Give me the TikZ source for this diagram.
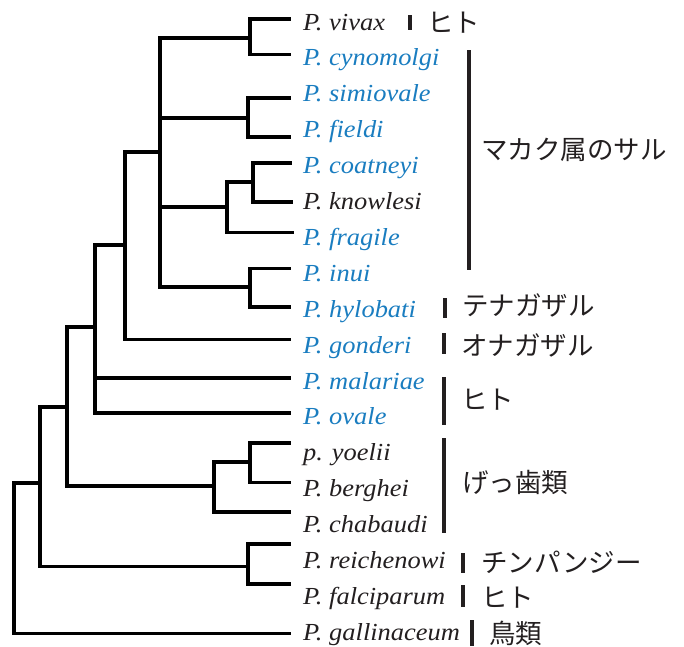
\documentclass[tikz,border=0pt]{standalone}
\usepackage{fontspec}
\setmainfont{Liberation Serif}
\newfontfamily\spit[FakeStretch=1.08]{Liberation Serif}
\newfontfamily\jp{Noto Sans CJK JP}
\definecolor{sp}{HTML}{1A7DC0}
\definecolor{ink}{HTML}{231F20}
\begin{document}
\begin{tikzpicture}[x=1pt,y=-1pt,
  br/.style={line width=3.6pt, line cap=rect, black},
  spn/.style={anchor=base west, inner sep=0pt, font=\spit\fontsize{24.5}{24.5}\selectfont\itshape, text=ink},
  bl/.style={spn, text=sp},
  jpl/.style={anchor=west, inner sep=0pt, font=\jp\fontsize{26.5}{26.5}\selectfont, text=ink},
  bar/.style={line width=4.2pt, ink}]
\useasboundingbox (0,0) rectangle (684,646);
% leaf labels
\node[spn] (vivax) at (303,30) {P. vivax};
\node[bl] (cyno) at (303,65.9) {P. cynomolgi};
\node[bl] (simio) at (303,101.8) {P. simiovale};
\node[bl] (fieldi) at (303,137.7) {P. fieldi};
\node[bl] (coat) at (303,173.6) {P. coatneyi};
\node[spn] (knowl) at (303,209.5) {P. knowlesi};
\node[bl] (frag) at (303,245.4) {P. fragile};
\node[bl] (inui) at (303,281.3) {P. inui};
\node[bl] (hylo) at (303,317.2) {P. hylobati};
\node[bl] (gond) at (303,353.1) {P. gonderi};
\node[bl] (malar) at (303,389) {P. malariae};
\node[bl] (ovale) at (303,424.9) {P. ovale};
\node[spn] (yoel) at (303,460.8) {p. yoelii};
\node[spn] (bergh) at (303,496.7) {P. berghei};
\node[spn] (chab) at (303,532.6) {P. chabaudi};
\node[spn] (reich) at (303,568.5) {P. reichenowi};
\node[spn] (falc) at (303,604.4) {P. falciparum};
\node[spn] (gall) at (303,640.3) {P. gallinaceum};
% leaf tips
\coordinate (t1) at (289,19);
\coordinate (t2) at (289,54.5);
\coordinate (t3) at (289,97.7);
\coordinate (t4) at (289,136.7);
\coordinate (t5) at (290,162.7);
\coordinate (t6) at (291,201.7);
\coordinate (t7) at (292,232.3);
\coordinate (t8) at (289,268.3);
\coordinate (t9) at (289,306.7);
\coordinate (t10) at (289,339.3);
\coordinate (t11) at (289,377.7);
\coordinate (t12) at (289,412.7);
\coordinate (t13) at (289,442.7);
\coordinate (t14) at (289,482.3);
\coordinate (t15) at (289,512);
\coordinate (t16) at (289,544);
\coordinate (t17) at (289,584);
\coordinate (t18) at (289,633.3);
% internal nodes
\coordinate (A) at (250,38);
\coordinate (B) at (248,118);
\coordinate (C) at (253,182);
\coordinate (D) at (227,207);
\coordinate (E) at (250,287);
\coordinate (M) at (160,152);
\coordinate (G) at (125,245);
\coordinate (H) at (95,327);
\coordinate (R2) at (250,462);
\coordinate (R) at (214,486);
\coordinate (I) at (67,407);
\coordinate (F) at (248,566.5);
\coordinate (J) at (40,483);
\coordinate (K) at (14,483);
% branches
\draw[br] (A) |- (t1) (A) |- (t2);
\draw[br] (B) |- (t3) (B) |- (t4);
\draw[br] (C) |- (t5) (C) |- (t6);
\draw[br] (D) |- (C) (D) |- (t7);
\draw[br] (E) |- (t8) (E) |- (t9);
\draw[br] (M) |- (A) (M) |- (B) (M) |- (D) (M) |- (E);
\draw[br] (G) |- (M) (G) |- (t10);
\draw[br] (H) |- (G) (H) |- (t11) (H) |- (t12);
\draw[br] (R2) |- (t13) (R2) |- (t14);
\draw[br] (R) |- (R2) (R) |- (t15);
\draw[br] (I) |- (H) (I) |- (R);
\draw[br] (F) |- (t16) (F) |- (t17);
\draw[br] (J) |- (I) (J) |- (F);
\draw[br] (K) -- (J) (K) |- (t18);
% host bars
\draw[bar] (410,15) -- (410,30);
\draw[bar] (469,50) -- (469,270);
\draw[bar] (445,298) -- (445,318);
\draw[bar] (444,333) -- (444,354);
\draw[bar] (444,377) -- (444,425);
\draw[bar] (444,438) -- (444,533);
\draw[bar] (463,553) -- (463,573);
\draw[bar] (463,585) -- (463,607);
\draw[bar] (472,620) -- (472,646);
% host labels
\node[jpl] (h1) at (427,23) {ヒト};
\node[jpl] (h2) at (481,150) {マカク属のサル};
\node[jpl] (h3) at (462,305) {テナガザル};
\node[jpl] (h4) at (461,345) {オナガザル};
\node[jpl] (h5) at (461,400) {ヒト};
\node[jpl] (h6) at (462,482) {げっ歯類};
\node[jpl] (h7) at (481,562) {チンパンジー};
\node[jpl] (h8) at (481,598) {ヒト};
\node[jpl] (h9) at (489,633) {鳥類};
\end{tikzpicture}
\end{document}
